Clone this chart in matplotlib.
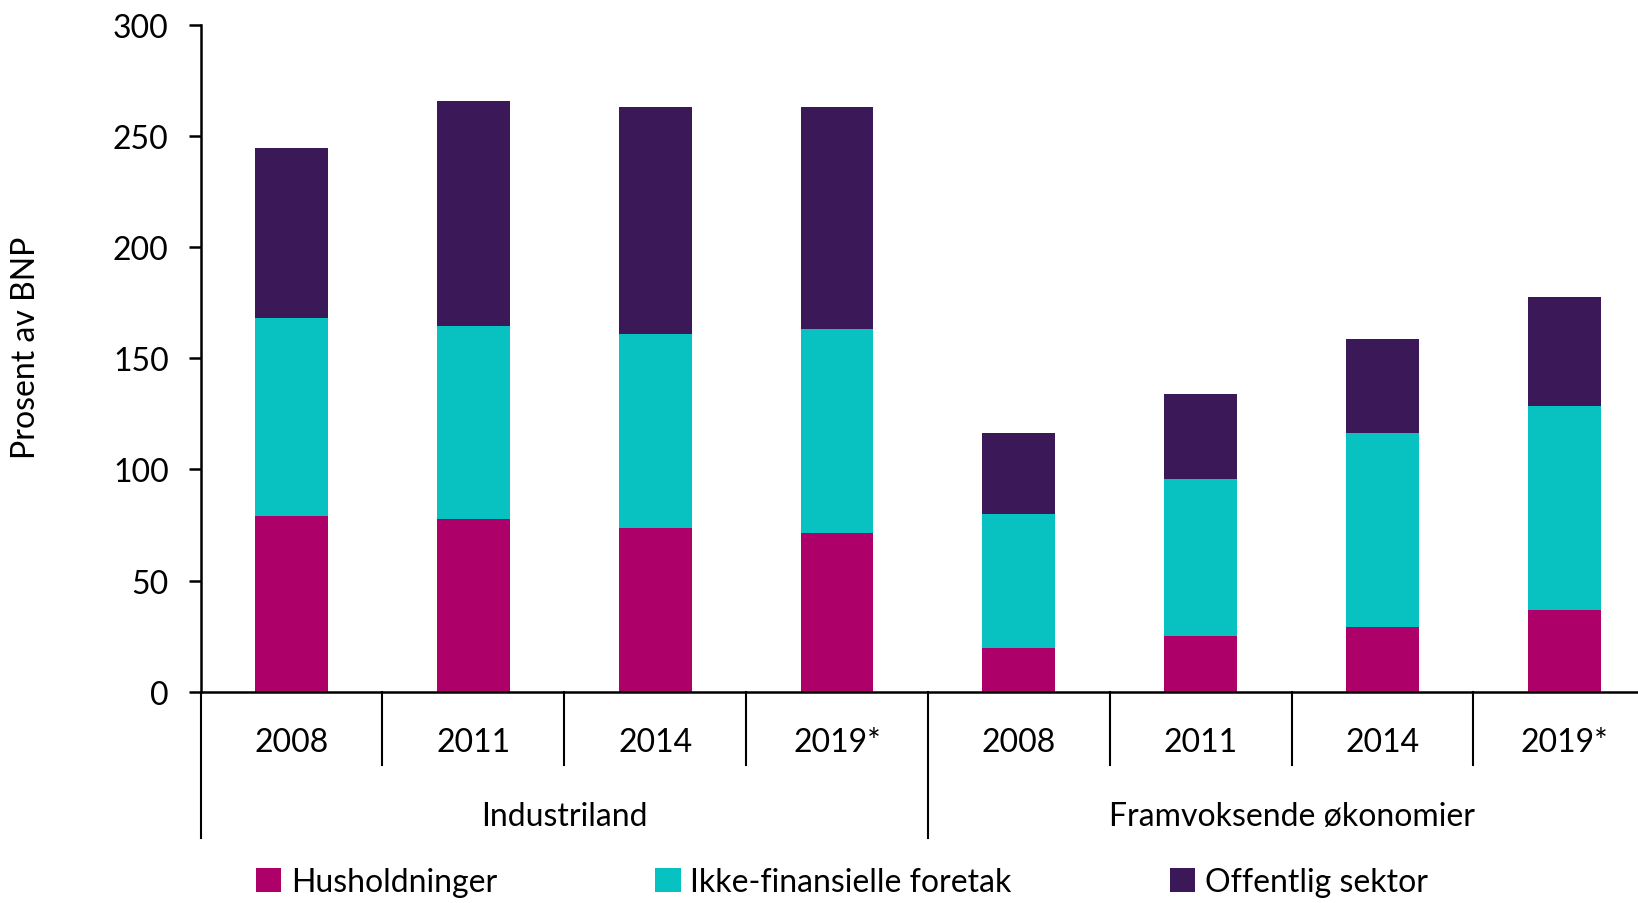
import numpy as np
import matplotlib.pyplot as plt
import matplotlib.transforms as mtransforms
from matplotlib.patches import Patch

plt.rcParams['font.family'] = ['Lato', 'DejaVu Sans']

years = ["2008", "2011", "2014", "2019*", "2008", "2011", "2014", "2019*"]
groups = ["Industriland", "Framvoksende økonomier"]
series_names = ["Husholdninger", "Ikke-finansielle foretak", "Offentlig sektor"]

husholdninger = np.array([79.0, 77.6, 73.8, 71.5, 19.7, 24.9, 29.2, 36.7])
foretak = np.array([89.3, 87.0, 87.0, 91.7, 60.2, 70.6, 87.4, 91.7])
offentlig = np.array([76.2, 101.1, 102.5, 100.1, 36.7, 38.5, 42.3, 49.3])

colors = ["#AD0068", "#08C2C2", "#3B1857"]
fs = 23

fig = plt.figure(figsize=(16.38, 9.04), dpi=100)
# axes runs a little past the right edge of the figure, as in the original
ax = fig.add_axes([0.1225, 0.2338, 0.888, 0.7373])

x = np.arange(len(years))
w = 0.40
ax.bar(x, husholdninger, w, color=colors[0], label=series_names[0])
ax.bar(x, foretak, w, bottom=husholdninger, color=colors[1], label=series_names[1])
ax.bar(x, offentlig, w, bottom=husholdninger + foretak, color=colors[2], label=series_names[2])

ax.set_xlim(-0.5, 7.5)
ax.set_ylim(0, 300)
ax.set_yticks(np.arange(0, 301, 50))
ax.tick_params(axis='y', labelsize=fs, length=9, width=1.8, direction='out', pad=14)
ax.set_xticks([])
for s in ['top', 'right']:
    ax.spines[s].set_visible(False)
ax.spines['left'].set_linewidth(1.8)
ax.spines['bottom'].set_linewidth(1.8)
ax.set_ylabel("Prosent av BNP", fontsize=fs, va='center')
ax.yaxis.set_label_coords(-0.120, 0.517)

# category axis below the plot
trans = mtransforms.blended_transform_factory(ax.transData, ax.transAxes)
for xb in [0.5, 1.5, 2.5, 4.5, 5.5, 6.5]:
    ax.plot([xb, xb], [0, -0.110], transform=trans, color='black', lw=1.5, clip_on=False)
for xb in [-0.5, 3.5]:
    ax.plot([xb, xb], [0, -0.220], transform=trans, color='black', lw=1.5, clip_on=False)
for xi, lab in zip(x, years):
    ax.text(xi, -0.076, lab, transform=trans, ha='center', va='center', fontsize=fs)
ax.text(1.5, -0.187, groups[0], transform=trans, ha='center', va='center', fontsize=fs)
ax.text(5.5, -0.187, groups[1], transform=trans, ha='center', va='center', fontsize=fs)

handles = [Patch(facecolor=c, label=n) for c, n in zip(colors, series_names)]
fig.legend(handles=handles, loc='center', bbox_to_anchor=(0.514, 0.023), ncol=3,
           frameon=False, fontsize=fs, handlelength=0.8, handleheight=0.8,
           handletextpad=0.3, columnspacing=4.95)

fig.savefig("out.png", dpi=100)
